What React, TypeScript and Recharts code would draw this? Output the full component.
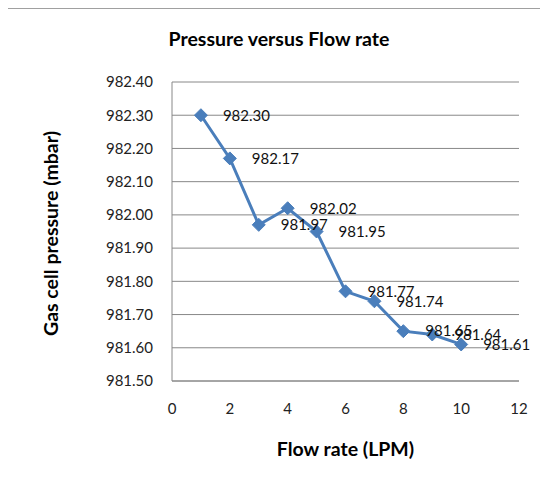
import React from 'react';
import { LineChart, Line, XAxis, YAxis, CartesianGrid, LabelList } from 'recharts';

// flow rate (LPM) and gas cell pressure (mbar)
const flowRates = [1, 2, 3, 4, 5, 6, 7, 8, 9, 10];
const pressures = [982.3, 982.17, 981.97, 982.02, 981.95, 981.77, 981.74, 981.65, 981.64, 981.61];
const xTicks = [0, 2, 4, 6, 8, 10, 12];
const yTicks = [981.5, 981.6, 981.7, 981.8, 981.9, 982.0, 982.1, 982.2, 982.3, 982.4];

const data = flowRates.map((f, i) => ({ flow: f, pressure: pressures[i] }));

const BLUE = '#4a7ebb';
const AXIS = '#888888';
const FONT = 'Lato, "Open Sans", sans-serif';
const TITLE_SIZE = 19.5;

const Diamond = (props: any) => {
  const { cx, cy, index } = props;
  const r = 6.5;
  return (
    <path
      key={`d-${index}`}
      d={`M${cx},${cy - r} L${cx + r},${cy} L${cx},${cy + r} L${cx - r},${cy} Z`}
      fill={BLUE}
      stroke={BLUE}
    />
  );
};

export default function App() {
  return (
    <div
      style={{
        position: 'relative',
        width: 540,
        height: 470,
        borderTop: '1px solid #a0a0a0',
        fontFamily: FONT,
      }}
    >
      <div
        style={{
          position: 'absolute',
          top: 18,
          left: 0,
          width: 542,
          textAlign: 'center',
          fontWeight: 700,
          fontSize: TITLE_SIZE,
          lineHeight: '24px',
          color: '#000',
        }}
      >
        Pressure versus Flow rate
      </div>
      <LineChart
        width={540}
        height={469}
        data={data}
        margin={{ top: 73, right: 29, bottom: 37, left: 0 }}
      >
        <CartesianGrid vertical={false} stroke={AXIS} strokeWidth={1} />
        <XAxis
          dataKey="flow"
          type="number"
          domain={[0, 12]}
          ticks={xTicks}
          stroke={AXIS}
          tickLine={false}
          tickSize={0}
          tickMargin={22}
          height={60}
          tick={{ fontSize: 15, fill: '#222', fontFamily: FONT }}
          label={{
            value: 'Flow rate (LPM)',
            content: (p: any) => (
              <text
                x={p.viewBox.x + p.viewBox.width / 2}
                y={439}
                textAnchor="middle"
                dominantBaseline="central"
                fontWeight={700}
                fontSize={TITLE_SIZE}
                fontFamily={FONT}
                fill="#000"
              >
                Flow rate (LPM)
              </text>
            ),
          }}
        />
        <YAxis
          type="number"
          domain={[981.5, 982.4]}
          ticks={yTicks}
          width={164}
          stroke={AXIS}
          tickLine={false}
          tickSize={0}
          tickMargin={19}
          tickFormatter={(v: number) => v.toFixed(2)}
          tick={{ fontSize: 15, fill: '#222', fontFamily: FONT }}
          label={{
            value: 'Gas cell pressure (mbar)',
            content: (p: any) => {
              const cy = p.viewBox.y + p.viewBox.height / 2 + 2;
              return (
                <text
                  x={42}
                  y={cy}
                  transform={`rotate(-90, 42, ${cy})`}
                  textAnchor="middle"
                  dominantBaseline="central"
                  fontWeight={700}
                  fontSize={TITLE_SIZE}
                  fontFamily={FONT}
                  fill="#000"
                >
                  Gas cell pressure (mbar)
                </text>
              );
            },
          }}
        />
        <Line
          type="linear"
          dataKey="pressure"
          stroke={BLUE}
          strokeWidth={3}
          dot={Diamond}
          activeDot={false}
          isAnimationActive={false}
        >
          <LabelList
            dataKey="pressure"
            position="right"
            offset={22}
            formatter={(v: any) => Number(v).toFixed(2)}
            style={{ fontSize: 15, fill: '#111', fontFamily: FONT }}
          />
        </Line>
      </LineChart>
    </div>
  );
}
